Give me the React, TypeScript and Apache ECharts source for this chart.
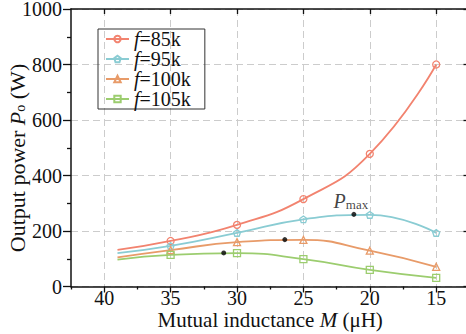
import React, { useEffect, useRef } from "react";
import * as echarts from "echarts";

// Mutual inductance sweep (µH) and output power (W) per switching frequency
const mutual = [39, 35, 30, 25, 20, 15];
const p85k = [132, 164, 222, 315, 478, 800];
const p95k = [120, 146, 193, 242, 258, 193];
const p100k = [105, 131, 160, 168, 129, 71];
const p105k = [97, 114, 120, 99, 60, 31];

// Maximum-power points (M, P) for 95k, 100k and 105k
const peakM = [21.2, 26.4, 31];
const peakP = [260, 169, 121];

const seriesNames = ["f=85k", "f=95k", "f=100k", "f=105k"];
const seriesValues = [p85k, p95k, p100k, p105k];
const seriesColors = ["#F2836F", "#8ACCD3", "#E89B69", "#9CCD6F"];
const pentagon =
  "path://M0,-10 L9.51,-3.09 L5.88,8.09 L-5.88,8.09 L-9.51,-3.09 Z";
const seriesSymbols = ["circle", pentagon, "triangle", "rect"];

// x range 42.5 -> 12.5 (reversed); labelled ticks every 5, minor ticks halfway
const xMin = 12.5;
const xMax = 42.5;
const yMin = 0;
const yMax = 1000;

const FONT = "'Liberation Serif', 'DejaVu Serif', serif";
const INK = "#111";

export default function App() {
  const ref = useRef<HTMLDivElement>(null);

  useEffect(() => {
    document.body.style.margin = "0";
    if (!ref.current) return;
    const chart = echarts.init(ref.current, null, { renderer: "svg" });

    const lineSeries = seriesNames.map((name, k) => ({
      name,
      type: "line",
      xAxisIndex: 0,
      yAxisIndex: 0,
      smooth: true,
      symbol: seriesSymbols[k],
      symbolSize: 7,
      symbolKeepAspect: true,
      lineStyle: { color: seriesColors[k], width: 1.8 },
      itemStyle: {
        color: "rgba(255,255,255,0)",
        borderColor: seriesColors[k],
        borderWidth: 1.3,
      },
      data: mutual.map((m, i) =>
        i === 0
          ? { value: [m, seriesValues[k][i]], symbol: "none" }
          : { value: [m, seriesValues[k][i]] }
      ),
      z: 3,
    }));

    const peakSeries = {
      name: "peak",
      type: "scatter",
      xAxisIndex: 0,
      yAxisIndex: 0,
      symbol: "circle",
      symbolSize: 5,
      itemStyle: { color: "#000" },
      z: 5,
      data: peakM.map((m, i) =>
        i === 0
          ? {
              value: [m, peakP[i]],
              label: {
                show: true,
                position: "top",
                distance: 1,
                offset: [-3, 0],
                formatter: "{i|P}{s|max}",
                rich: {
                  i: { fontStyle: "italic", fontSize: 20, fontFamily: FONT, color: INK },
                  s: { fontSize: 13, fontFamily: FONT, color: INK, padding: [7, 0, 0, 0] },
                },
              },
            }
          : { value: [m, peakP[i]] }
      ),
    };

    const dashed = { type: [7, 4] as number[], color: "#cccccc", width: 1 };
    const axisLine = { show: true, onZero: false, lineStyle: { color: INK, width: 1.5 } };
    const tickLine = { color: INK, width: 1.3 };

    chart.setOption({
      animation: false,
      backgroundColor: "#fff",
      grid: { left: 71, top: 9, width: 398.4, height: 277.5, outerBoundsMode: "none" },
      legend: {
        data: seriesNames,
        orient: "vertical",
        left: 98,
        top: 29,
        itemWidth: 23,
        itemHeight: 8,
        itemGap: 0,
        padding: [0, 14, 0, 7],
        borderColor: "#333",
        borderWidth: 1,
        formatter: (n: string) => "{i|f}" + n.slice(1),
        textStyle: {
          fontFamily: FONT,
          fontSize: 20,
          color: INK,
          lineHeight: 18.4,
          rich: {
            i: { fontStyle: "italic", fontFamily: FONT, fontSize: 20, color: INK, lineHeight: 18.4 },
          },
        },
      },
      xAxis: [
        {
          // bottom axis: ticks at the half-steps, minor ticks land on the labelled values
          type: "value",
          position: "bottom",
          min: xMin,
          max: xMax,
          interval: 5,
          inverse: true,
          axisLine,
          axisTick: { show: true, inside: false, length: 3, lineStyle: tickLine },
          minorTick: { show: true, splitNumber: 2, length: 6, lineStyle: tickLine },
          axisLabel: { show: false },
          splitLine: { show: false },
          minorSplitLine: { show: true, lineStyle: dashed },
        },
        {
          // bottom labels every 2.5, only multiples of 5 are written
          type: "value",
          position: "bottom",
          offset: 0,
          min: xMin,
          max: xMax,
          interval: 2.5,
          inverse: true,
          axisLine: { show: false },
          axisTick: { show: false },
          axisLabel: {
            margin: 4,
            fontSize: 20,
            lineHeight: 15,
            fontFamily: FONT,
            color: INK,
            formatter: (v: number) => (Math.abs(v % 5) < 1e-6 ? String(v) : ""),
          },
          splitLine: { show: false },
          name: "Mutual inductance {i|M} (μH)",
          nameLocation: "middle",
          nameGap: 26,
          nameMoveOverlap: false,
          nameTextStyle: {
            fontFamily: FONT,
            fontSize: 21,
            lineHeight: 15,
            color: INK,
            rich: {
              i: { fontStyle: "italic", fontFamily: FONT, fontSize: 21, lineHeight: 15, color: INK },
            },
          },
        },
        {
          // top frame with inward ticks at the labelled values
          type: "value",
          position: "top",
          min: xMin,
          max: xMax,
          interval: 5,
          inverse: true,
          axisLine,
          axisTick: { show: false, inside: true, length: 5, lineStyle: tickLine },
          minorTick: { show: true, splitNumber: 2, length: 5, lineStyle: tickLine },
          axisLabel: { show: false },
          splitLine: { show: false },
        },
      ],
      yAxis: [
        {
          type: "value",
          position: "left",
          min: yMin,
          max: yMax,
          interval: 200,
          axisLine,
          axisTick: { show: true, inside: false, length: 8, lineStyle: tickLine },
          minorTick: { show: true, splitNumber: 2, length: 4, lineStyle: tickLine },
          axisLabel: {
            margin: 9,
            fontSize: 20,
            lineHeight: 15,
            fontFamily: FONT,
            color: INK,
            formatter: (v: number) => String(v),
          },
          splitLine: { show: true, lineStyle: dashed },
        },
        {
          type: "value",
          position: "right",
          min: yMin,
          max: yMax,
          interval: 200,
          axisLine,
          axisTick: { show: true, inside: true, length: 6, lineStyle: tickLine },
          axisLabel: { show: false },
          splitLine: { show: false },
        },
      ],
      graphic: [
        {
          type: "text",
          x: 17,
          y: 158,
          rotation: Math.PI / 2,
          style: {
            text: "Output power {i|P}{s|o} (W)",
            fontFamily: FONT,
            fontSize: 22,
            fill: INK,
            align: "center",
            verticalAlign: "middle",
            rich: {
              i: { fontStyle: "italic", fontFamily: FONT, fontSize: 22, fill: INK },
              s: { fontFamily: FONT, fontSize: 14, fill: INK, padding: [7, 0, 0, 0] },
            },
          },
        },
      ],
      series: [...lineSeries, peakSeries],
    });

    return () => chart.dispose();
  }, []);

  return <div ref={ref} style={{ width: 466, height: 334 }} />;
}
